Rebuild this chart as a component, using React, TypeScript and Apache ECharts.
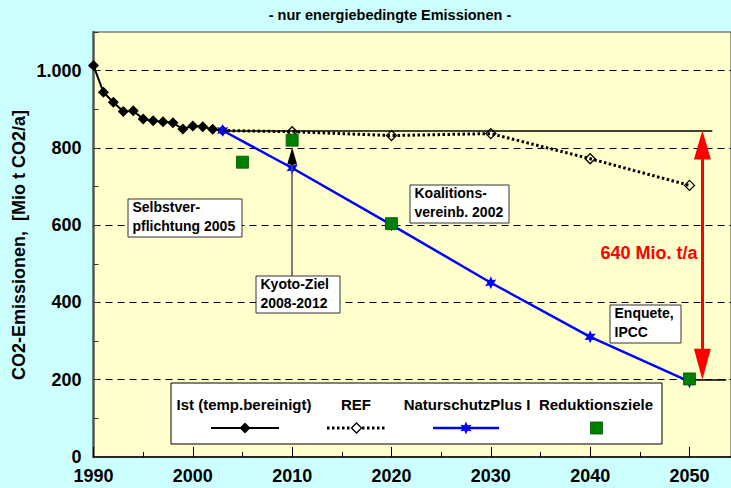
import React, { useEffect, useRef } from 'react';
import * as echarts from 'echarts';

// ---------- data ----------
const istYears = [1990, 1991, 1992, 1993, 1994, 1995, 1996, 1997, 1998, 1999, 2000, 2001, 2002, 2003];
const istValues = [1013, 944, 918, 894, 896, 875, 870, 868, 865, 849, 857, 855, 848, 845];
const refYears = [2003, 2010, 2020, 2030, 2040, 2050];
const refValues = [845, 842, 832, 837, 772, 703];
const nspYears = [2003, 2010, 2020, 2030, 2040, 2050];
const nspValues = [845, 748, 601, 451, 311, 195];
const zielYears = [2005, 2010, 2020, 2050];
const zielValues = [763, 820, 604, 202];

const baseLevel = 845; // level of 2003
const targetLevel = 200; // target 2050
const kyotoYear = 2010;
const kyotoFrom = 468;
const kyotoTo = 801;

const seriesNames = ['Ist (temp.bereinigt)', 'REF', 'NaturschutzPlus I', 'Reduktionsziele'];
const titleText = '- nur energiebedingte Emissionen -';
const yAxisTitle = 'CO2-Emissionen,  [Mio t CO2/a]';
const diffLabel = '640 Mio. t/a';
const notes = [
  'Selbstver-\npflichtung 2005',
  'Koalitions-\nvereinb. 2002',
  'Kyoto-Ziel\n2008-2012',
  'Enquete,\nIPCC',
];

// ---------- layout ----------
const FONT = '"Liberation Sans", Arial, Helvetica, sans-serif';
const W = 731;
const H = 488;
const X_MIN = 1990;
const GRID_LEFT = 93.5;
const GRID_TOP = 32;
const GRID_H = 425;
const PX_PER_YEAR = 9.933;
const X_MAX = X_MIN + (W - GRID_LEFT) / PX_PER_YEAR;
const Y_MAX = 1100;
const PX_PER_UNIT = GRID_H / Y_MAX;

const STAR_PATH =
  'path://M10 0L12.5 5.67L18.66 5L15 10L18.66 15L12.5 14.33L10 20L7.5 14.33L1.34 15L5 10L1.34 5L7.5 5.67Z';

function starPoints(cx: number, cy: number, r: number) {
  const pts: number[][] = [];
  for (let k = 0; k < 12; k++) {
    const a = (-90 + k * 30) * (Math.PI / 180);
    const rr = k % 2 === 0 ? r : r * 0.5;
    pts.push([cx + rr * Math.cos(a), cy + rr * Math.sin(a)]);
  }
  return pts;
}

function zip(xs: number[], ys: number[]) {
  return xs.map((x, i) => [x, ys[i]]);
}

function fmtY(v: number) {
  if (v > 1000) return '';
  if (v >= 1000) return `${Math.floor(v / 1000)}.${String(v % 1000).padStart(3, '0')}`;
  return String(v);
}

function fmtX(v: number) {
  return v % 10 === 0 ? String(v) : '';
}

function noteBox(x: number, y: number, w: number, h: number, text: string) {
  return {
    type: 'group',
    z: 100,
    children: [
      {
        type: 'rect',
        shape: { x, y, width: w, height: h },
        style: { fill: '#ffffff', stroke: '#333333', lineWidth: 1 },
        z: 100,
      },
      {
        type: 'text',
        z: 101,
        style: {
          text,
          x: x + 4.5,
          y: y - 1.5,
          font: `bold 14px ${FONT}`,
          fill: '#000000',
          lineHeight: 19,
          align: 'left',
          verticalAlign: 'top',
        },
      },
    ],
  };
}

export default function App() {
  const ref = useRef<HTMLDivElement>(null);

  useEffect(() => {
    document.body.style.margin = '0';
    const chart = echarts.init(ref.current as HTMLDivElement, null, { renderer: 'svg' });

    const redTop = 29; // arrow head length px
    const redBot = 31;
    const kyHead = 17;
    const arrowX = 2051.3;

    const legendY = 428;
    const legendTextY = 404;

    const option: any = {
      animation: false,
      backgroundColor: '#CCFFFF',
      textStyle: { fontFamily: FONT },
      grid: {
        left: GRID_LEFT,
        top: GRID_TOP,
        right: 0,
        height: GRID_H,
        show: true,
        backgroundColor: '#FFFFCC',
        borderColor: '#444444',
        borderWidth: 1,
      },
      xAxis: [
        {
          type: 'value',
          min: X_MIN,
          max: X_MAX,
          interval: 10,
          axisLine: { show: true, lineStyle: { color: '#000000', width: 1.5 } },
          axisTick: { show: true, inside: true, length: 10, lineStyle: { color: '#000000', width: 1 } },
          splitLine: { show: false },
          axisLabel: {
            fontFamily: FONT,
            fontWeight: 'bold',
            fontSize: 18,
            color: '#000000',
            margin: 10,
            showMaxLabel: false,
            formatter: (v: number) => fmtX(v),
          },
        },
        {
          type: 'value',
          position: 'bottom',
          min: X_MIN,
          max: X_MAX,
          interval: 5,
          axisLine: { show: false },
          axisTick: { show: true, inside: true, length: 5, lineStyle: { color: '#000000', width: 1 } },
          splitLine: { show: false },
          axisLabel: { show: false },
        },
      ],
      yAxis: {
        type: 'value',
        min: 0,
        max: Y_MAX,
        interval: 200,
        axisLine: { show: true, lineStyle: { color: '#555555', width: 2.5 } },
        axisTick: { show: true, inside: true, length: 5, lineStyle: { color: '#333333', width: 1 } },
        minorTick: { show: true, splitNumber: 2, length: 5, lineStyle: { color: '#333333', width: 1 } },
        splitLine: {
          show: true,
          showMinLine: false,
          showMaxLine: false,
          lineStyle: { color: '#000000', width: 1, type: [7, 5] },
        },
        axisLabel: {
          fontFamily: FONT,
          fontWeight: 'bold',
          fontSize: 18,
          color: '#000000',
          margin: 12,
          formatter: (v: number) => fmtY(v),
        },
      },
      series: [
        {
          name: seriesNames[1],
          type: 'line',
          z: 2,
          data: zip(refYears, refValues).map((d, i) =>
            i === 0 ? { value: d, symbol: 'none' } : { value: d }
          ),
          symbol: 'diamond',
          symbolSize: 10,
          lineStyle: { color: '#000000', width: 3, type: [2.5, 2.5] },
          itemStyle: { color: 'rgba(0,0,0,0)', borderColor: '#000000', borderWidth: 1.3 },
        },
        {
          name: seriesNames[0],
          type: 'line',
          z: 3,
          data: zip(istYears, istValues),
          symbol: 'diamond',
          symbolSize: 11,
          lineStyle: { color: '#000000', width: 2 },
          itemStyle: { color: '#000000' },
        },
        {
          name: seriesNames[2],
          type: 'line',
          z: 4,
          data: zip(nspYears, nspValues),
          symbol: STAR_PATH,
          symbolSize: 13,
          symbolKeepAspect: true,
          lineStyle: { color: '#0000FF', width: 2.5 },
          itemStyle: { color: '#0000FF' },
          markLine: {
            silent: true,
            animation: false,
            label: { show: false },
            symbol: ['none', 'none'],
            data: [
              [
                { coord: [nspYears[0], baseLevel], symbol: 'none', lineStyle: { color: '#000000', width: 1.5, type: 'solid' } },
                { coord: [2052.3, baseLevel], symbol: 'none' },
              ],
              [
                { coord: [2050, targetLevel], symbol: 'none', lineStyle: { color: '#000000', width: 1.5, type: 'solid' } },
                { coord: [2053.7, targetLevel], symbol: 'none' },
              ],
              [
                {
                  coord: [arrowX, baseLevel - redTop / 2 / PX_PER_UNIT],
                  symbol: 'triangle',
                  symbolSize: [17, redTop],
                  lineStyle: { color: '#FF0000', width: 3, type: 'solid' },
                },
                {
                  coord: [arrowX, targetLevel + redBot / 2 / PX_PER_UNIT],
                  symbol: 'triangle',
                  symbolSize: [17, redBot],
                },
              ],
              [
                {
                  coord: [kyotoYear, kyotoFrom],
                  symbol: 'none',
                  lineStyle: { color: '#555555', width: 1.5, type: 'solid' },
                },
                {
                  coord: [kyotoYear, kyotoTo - kyHead / PX_PER_UNIT],
                  symbol: 'none',
                },
              ],
              [
                {
                  coord: [kyotoYear, kyotoTo - kyHead / PX_PER_UNIT],
                  symbol: 'none',
                  lineStyle: { color: '#000000', width: 1.5, type: 'solid' },
                },
                {
                  coord: [kyotoYear, kyotoTo - kyHead / 2 / PX_PER_UNIT],
                  symbol: 'triangle',
                  symbolSize: [10, kyHead],
                },
              ],
            ],
          },
        },
        {
          name: seriesNames[3],
          type: 'scatter',
          z: 5,
          data: zip(zielYears, zielValues),
          symbol: 'rect',
          symbolSize: 12,
          itemStyle: { color: '#008000', borderColor: '#005000', borderWidth: 0.8, opacity: 1 },
        },
      ],
      graphic: [
        {
          type: 'text',
          z: 100,
          style: {
            text: titleText,
            x: 390,
            y: 15,
            font: `bold 14.5px ${FONT}`,
            fill: '#000000',
            align: 'center',
            verticalAlign: 'middle',
          },
        },
        {
          type: 'text',
          z: 100,
          x: 19,
          y: 245,
          rotation: Math.PI / 2,
          style: {
            text: yAxisTitle,
            x: 0,
            y: 0,
            font: `bold 18px ${FONT}`,
            fill: '#000000',
            align: 'center',
            verticalAlign: 'middle',
          },
        },
        {
          type: 'text',
          z: 100,
          style: {
            text: diffLabel,
            x: 649,
            y: 253,
            font: `bold 18px ${FONT}`,
            fill: '#FF0000',
            align: 'center',
            verticalAlign: 'middle',
          },
        },
        noteBox(128, 199, 114, 38, notes[0]),
        noteBox(410, 185, 99, 38, notes[1]),
        noteBox(256, 276, 84, 37, notes[2]),
        noteBox(610, 305, 71, 38, notes[3]),
        // legend
        {
          type: 'group',
          z: 100,
          children: [
            {
              type: 'rect',
              z: 100,
              shape: { x: 171, y: 383, width: 491, height: 61 },
              style: { fill: '#ffffff', stroke: '#000000', lineWidth: 1 },
            },
            ...[244, 356, 467, 596].map((cx, i) => ({
              type: 'text',
              z: 101,
              style: {
                text: seriesNames[i],
                x: cx,
                y: legendTextY,
                font: `bold 15px ${FONT}`,
                fill: '#000000',
                align: 'center',
                verticalAlign: 'middle',
              },
            })),
            {
              type: 'line',
              z: 101,
              shape: { x1: 211, y1: legendY, x2: 279, y2: legendY },
              style: { stroke: '#000000', lineWidth: 2 },
            },
            {
              type: 'polygon',
              z: 102,
              shape: { points: [[245, legendY - 5.5], [250.5, legendY], [245, legendY + 5.5], [239.5, legendY]] },
              style: { fill: '#000000' },
            },
            {
              type: 'line',
              z: 101,
              shape: { x1: 327, y1: legendY, x2: 386, y2: legendY },
              style: { stroke: '#000000', lineWidth: 3, lineDash: [2.5, 2.5] },
            },
            {
              type: 'polygon',
              z: 102,
              shape: { points: [[356.5, legendY - 5], [361.5, legendY], [356.5, legendY + 5], [351.5, legendY]] },
              style: { fill: '#ffffff', stroke: '#000000', lineWidth: 1.3 },
            },
            {
              type: 'line',
              z: 101,
              shape: { x1: 433, y1: legendY, x2: 499, y2: legendY },
              style: { stroke: '#0000FF', lineWidth: 2.5 },
            },
            {
              type: 'polygon',
              z: 102,
              shape: { points: starPoints(466, legendY, 6.5) },
              style: { fill: '#0000FF' },
            },
            {
              type: 'rect',
              z: 102,
              shape: { x: 590.5, y: legendY - 6, width: 12, height: 12 },
              style: { fill: '#008000', stroke: '#005000', lineWidth: 0.8 },
            },
          ],
        },
      ],
    };

    chart.setOption(option);
    return () => chart.dispose();
  }, []);

  return (
    <div
      ref={ref}
      style={{ position: 'absolute', left: 0, top: 0, width: W, height: H }}
    />
  );
}
